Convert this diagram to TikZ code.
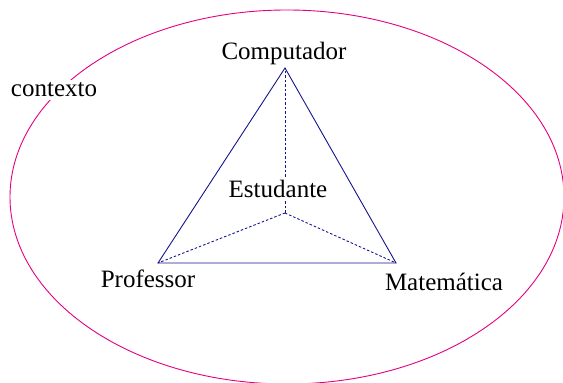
\documentclass[tikz,border=0pt]{standalone}
\usepackage{fontspec}
\setmainfont{Liberation Serif}
\definecolor{ctxpink}{RGB}{228,0,128}
\definecolor{triblue}{RGB}{20,20,140}
\tikzset{
  lbl/.style={font=\fontsize{25}{29}\selectfont, inner sep=1pt, anchor=base},
  edge/.style={draw=triblue, line width=0.9pt},
  dotedge/.style={draw=triblue, line width=0.9pt, dash pattern=on 2.5pt off 2pt}
}
\begin{document}
\begin{tikzpicture}[x=1pt,y=1pt]
\useasboundingbox (0,0) rectangle (563,383);
\draw[ctxpink, line width=0.9pt] (287,186) ellipse [x radius=277, y radius=187];
\node[lbl, fill=white, inner sep=3pt] (ctx) at (54,286) {contexto};
\coordinate (T) at (285,315);
\coordinate (P) at (158,120);
\coordinate (M) at (396,120);
\coordinate (S) at (285,170);
\draw[dotedge] (S) -- (T);
\draw[dotedge] (S) -- (P);
\draw[dotedge] (S) -- (M);
\draw[edge] (T) -- (P) -- (M) -- cycle;
\node[lbl, fill=white, inner sep=2pt] (est) at (278,185) {Estudante};
\node[lbl] (comp) at (284,323) {Computador};
\node[lbl] (prof) at (148,95) {Professor};
\node[lbl] (mat) at (444,92) {Matemática};
\end{tikzpicture}
\end{document}
